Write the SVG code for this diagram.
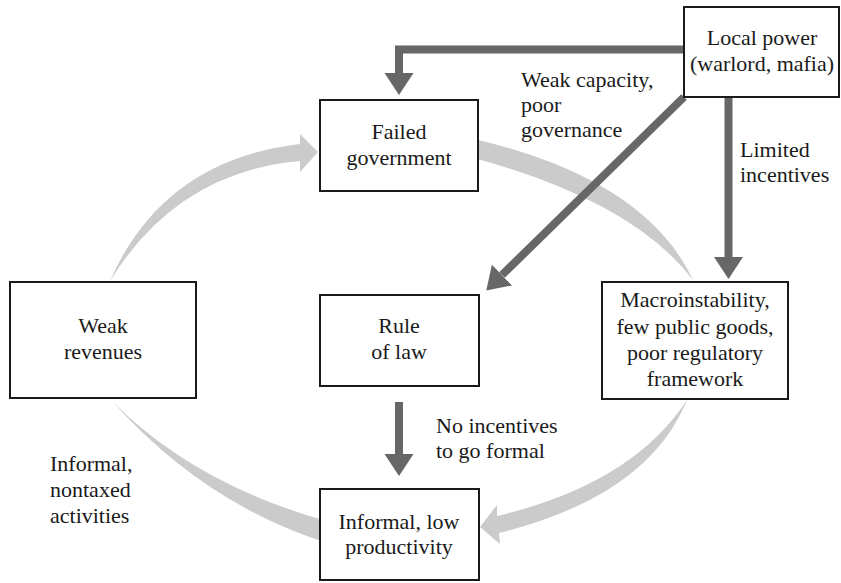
<svg xmlns="http://www.w3.org/2000/svg" width="841" height="583" viewBox="0 0 841 583">
<style>
.box{fill:#fff;stroke:#1a1a1a;stroke-width:2}
text{font-family:'Liberation Serif','DejaVu Serif',serif;font-size:22px;fill:#1a1a1a}
.c{text-anchor:middle}
.dark{fill:none;stroke:#676767;stroke-width:8;stroke-linejoin:miter}
.light{fill:#cbcbcb;stroke:none}
</style>
<defs>
<marker id="ah" markerUnits="userSpaceOnUse" markerWidth="24" markerHeight="30" refX="0" refY="14.5" orient="auto" viewBox="0 0 24 30">
<path d="M0,0 L22,14.5 L0,29 Z" fill="#676767"/>
</marker>
</defs>
<rect width="841" height="583" fill="#fff"/>
<g id="connectors">
<path class="light" d="M110,281 Q163,160 300,144 L300,134 L318,152 L300,172 L300,161 Q177,172 110,281 Z"/>
<path class="light" d="M470,138 Q645,178 693,280 Q632,200 470,157 Z"/>
<path class="light" d="M687,400 Q632,484 497,516 L497,505 L480,527 L500,544 L499,533 Q648,496 687,400 Z"/>
<path class="light" d="M112,401 Q195,485 330,522 L330,544 Q205,505 112,401 Z"/>
<path class="dark" d="M684,49.5 H399 V73" marker-end="url(#ah)"/>
<path class="dark" d="M728.5,97 V257" marker-end="url(#ah)"/>
<path class="dark" d="M399,402 V454" marker-end="url(#ah)"/>
<path class="dark" d="M684,97 L502,275" marker-end="url(#ah)"/>
</g>
<g id="local-power">
<rect class="box" x="684" y="7" width="155" height="90"/>
<text class="c" x="762" y="45" font-family="Liberation Serif">Local power</text>
<text class="c" x="762" y="71" font-family="Liberation Serif">(warlord, mafia)</text>
</g>
<g id="failed-government">
<rect class="box" x="320" y="100" width="158" height="91"/>
<text class="c" x="399" y="139">Failed</text>
<text class="c" x="399" y="165">government</text>
</g>
<g id="weak-revenues">
<rect class="box" x="10" y="282" width="186" height="116"/>
<text class="c" x="103" y="333">Weak</text>
<text class="c" x="103" y="359">revenues</text>
</g>
<g id="rule-of-law">
<rect class="box" x="320" y="295" width="159" height="91"/>
<text class="c" x="399" y="333">Rule</text>
<text class="c" x="399" y="359">of law</text>
</g>
<g id="macroinstability">
<rect class="box" x="602" y="282" width="186" height="117"/>
<text class="c" x="695" y="307">Macroinstability,</text>
<text class="c" x="695" y="334">few public goods,</text>
<text class="c" x="695" y="360">poor regulatory</text>
<text class="c" x="695" y="386">framework</text>
</g>
<g id="informal-low-productivity">
<rect class="box" x="320" y="489" width="159" height="91"/>
<text class="c" x="399" y="529">Informal, low</text>
<text class="c" x="399" y="554">productivity</text>
</g>
<g id="labels">
<text x="521" y="87">Weak capacity,</text>
<text x="521" y="112">poor</text>
<text x="521" y="137">governance</text>
<text x="740" y="157">Limited</text>
<text x="740" y="182">incentives</text>
<text x="436" y="433">No incentives</text>
<text x="436" y="458">to go formal</text>
<text x="50" y="471">Informal,</text>
<text x="50" y="497">nontaxed</text>
<text x="50" y="523">activities</text>
</g>
</svg>
